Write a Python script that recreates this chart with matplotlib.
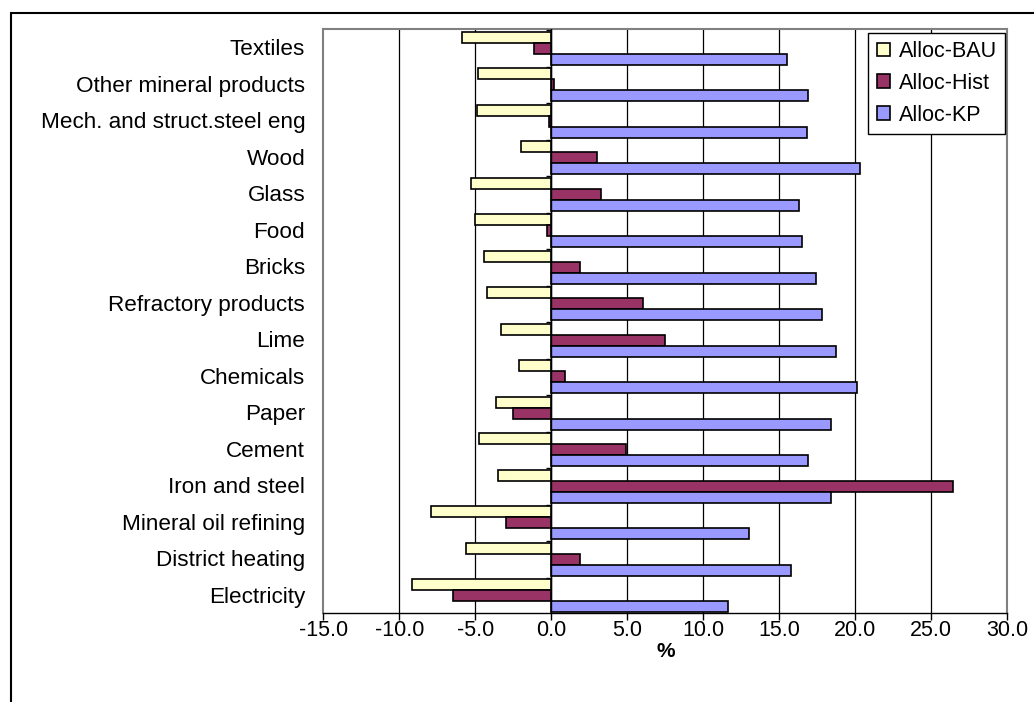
import numpy as np
import matplotlib
matplotlib.use("Agg")
import matplotlib.pyplot as plt
from matplotlib.patches import Rectangle

plt.rcParams['font.family'] = ['Liberation Sans', 'DejaVu Sans']

# Sectors, listed top to bottom
sectors = ['Textiles', 'Other mineral products', 'Mech. and struct.steel eng',
           'Wood', 'Glass', 'Food', 'Bricks', 'Refractory products', 'Lime',
           'Chemicals', 'Paper', 'Cement', 'Iron and steel',
           'Mineral oil refining', 'District heating', 'Electricity']

# Change in % per allocation scenario
alloc_bau = [-5.9, -4.8, -4.9, -2.0, -5.3, -5.0, -4.4, -4.2, -3.3,
             -2.1, -3.65, -4.75, -3.5, -7.9, -5.6, -9.15]
alloc_hist = [-1.15, 0.15, -0.15, 3.0, 3.25, -0.3, 1.9, 6.0, 7.5,
              0.9, -2.5, 4.9, 26.4, -3.0, 1.9, -6.5]
alloc_kp = [15.5, 16.9, 16.8, 20.3, 16.3, 16.5, 17.4, 17.8, 18.75,
            20.1, 18.4, 16.9, 18.4, 13.0, 15.75, 11.65]

series = [('Alloc-BAU', alloc_bau, '#FFFFCC'),
          ('Alloc-Hist', alloc_hist, '#993366'),
          ('Alloc-KP', alloc_kp, '#9999FF')]

x_ticks = np.arange(-15, 31, 5)

fig = plt.figure(figsize=(10.34, 7.02), dpi=100)
W, H = 1034, 702
left, right, top, bottom = 323.3, 1007.3, 29, 613
ax = fig.add_axes([left / W, 1 - bottom / H, (right - left) / W, (bottom - top) / H])

y = np.arange(len(sectors))
bar_h = 0.3
for k, (name, vals, color) in enumerate(series):
    ax.barh(y + (k - 1) * bar_h + 0.03, vals, height=bar_h, color=color,
            edgecolor='black', linewidth=1.2, label=name, zorder=3)

ax.set_ylim(len(sectors) - 0.5, -0.5)
ax.set_xlim(-15, 30)
ax.set_xticks(x_ticks)
ax.set_xticklabels([f'{v:.1f}' for v in x_ticks], fontsize=15.5)
ax.set_yticks(y)
ax.set_yticklabels(sectors, fontsize=16.2)
ax.tick_params(axis='y', length=0, pad=13)
ax.tick_params(axis='x', direction='out', length=5, width=1, pad=0)
ax.set_xlabel('%', fontsize=15, fontweight='bold', labelpad=1)

# vertical gridlines
for v in x_ticks[1:-1]:
    ax.axvline(v, color='black', linewidth=0.9, zorder=1)

# category axis at zero with small boundary ticks
ax.axvline(0, color='black', linewidth=1.0, zorder=4)
ax.hlines(np.arange(-0.5, len(sectors)) + 0.03, -0.33, 0, color='black',
          linewidth=1.0, zorder=4)

for s in ['top', 'right', 'left']:
    ax.spines[s].set_color('#808080')
    ax.spines[s].set_linewidth(1.5)
ax.spines['bottom'].set_color('black')
ax.spines['bottom'].set_linewidth(1.0)

leg = ax.legend(loc='upper right', bbox_to_anchor=(0.997, 0.994),
                borderaxespad=0, fontsize=15.5, fancybox=False,
                edgecolor='black', framealpha=1, handlelength=0.6,
                handleheight=0.6, handletextpad=0.4, labelspacing=0.5,
                borderpad=0.4)
leg.get_frame().set_linewidth(1.0)

# outer chart frame
fig.patches.append(Rectangle((10.5 / W, -0.1), 1.2, 1 - 12.5 / H + 0.1,
                             transform=fig.transFigure, fill=False,
                             edgecolor='black', linewidth=1.5))

fig.savefig('out.png', dpi=100)
